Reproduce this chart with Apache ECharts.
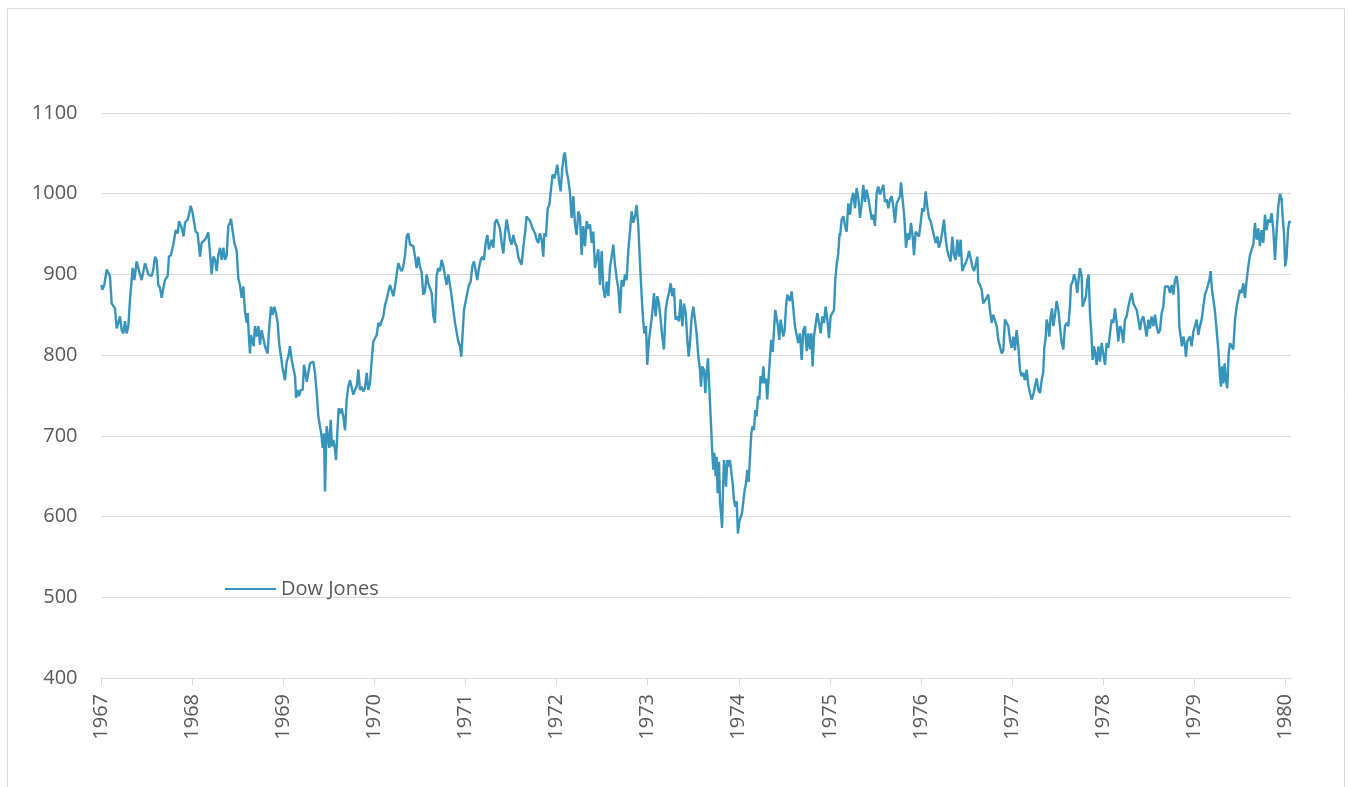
<!DOCTYPE html>
<html>
<head>
<meta charset="utf-8">
<title>Dow Jones 1967-1980</title>
<script src="https://cdn.jsdelivr.net/npm/echarts@6/dist/echarts.min.js"></script>
<style>
  html, body { margin: 0; padding: 0; background: #fff; }
  #chart { width: 1349px; height: 787px; }
</style>
</head>
<body>
<div id="chart"></div>
<script>
// values: [decimal year, index level]
var seriesName = 'Dow Jones';
var yearTicks = [1967, 1968, 1969, 1970, 1971, 1972, 1973, 1974, 1975, 1976, 1977, 1978, 1979, 1980];
var valueTicks = [400, 500, 600, 700, 800, 900, 1000, 1100];

var dowJones = [
  [1967.000,887],[1967.009,881],[1967.031,887],[1967.057,906],[1967.075,908],[1967.093,898],[1967.112,864],[1967.130,862],[1967.148,858],[1967.167,833],[1967.185,840],[1967.203,848],[1967.222,831],[1967.240,827],[1967.258,842],[1967.276,827],[1967.295,836],[1967.313,869],[1967.331,893],[1967.342,908],[1967.361,893],[1967.386,916],[1967.405,918],[1967.423,900],[1967.441,893],[1967.459,893],[1967.478,914],[1967.496,916],[1967.514,900],[1967.533,898],[1967.551,898],[1967.569,906],[1967.588,922],[1967.606,918],[1967.624,887],[1967.643,883],[1967.661,871],[1967.679,883],[1967.697,893],[1967.727,898],[1967.741,922],[1967.763,924],[1967.789,937],[1967.815,955],[1967.837,951],[1967.851,966],[1967.873,960],[1967.888,955],[1967.902,947],[1967.917,964],[1967.946,968],[1967.965,976],[1967.979,985],[1967.998,978],
  [1968.016,978],[1968.034,953],[1968.056,951],[1968.082,922],[1968.100,939],[1968.118,941],[1968.137,943],[1968.155,947],[1968.173,952],[1968.192,926],[1968.210,900],[1968.228,922],[1968.247,918],[1968.265,904],[1968.283,924],[1968.302,933],[1968.320,918],[1968.338,933],[1968.357,918],[1968.375,924],[1968.393,960],[1968.411,964],[1968.422,969],[1968.437,957],[1968.459,939],[1968.485,929],[1968.503,895],[1968.521,887],[1968.540,871],[1968.558,885],[1968.576,854],[1968.595,840],[1968.606,852],[1968.621,819],[1968.631,802],[1968.642,825],[1968.657,823],[1968.671,811],[1968.686,836],[1968.704,823],[1968.723,836],[1968.741,813],[1968.759,831],[1968.777,833],[1968.796,811],[1968.825,802],[1968.840,831],[1968.862,860],[1968.880,850],[1968.898,860],[1968.917,852],[1968.935,840],[1968.953,813],[1968.972,798],[1968.986,786],
  [1969.005,784],[1969.015,769],[1969.034,792],[1969.052,798],[1969.070,811],[1969.089,794],[1969.107,784],[1969.126,774],[1969.137,747],[1969.151,757],[1969.170,749],[1969.188,757],[1969.210,757],[1969.224,788],[1969.235,782],[1969.254,767],[1969.272,765],[1969.290,790],[1969.309,792],[1969.327,792],[1969.345,778],[1969.364,753],[1969.382,724],[1969.400,712],[1969.418,699],[1969.429,685],[1969.444,703],[1969.455,631],[1969.473,712],[1969.492,714],[1969.503,685],[1969.517,720],[1969.532,687],[1969.547,695],[1969.565,683],[1969.576,670],[1969.590,703],[1969.605,734],[1969.620,728],[1969.638,734],[1969.656,724],[1969.675,707],[1969.693,745],[1969.711,761],[1969.730,769],[1969.748,771],[1969.766,751],[1969.784,757],[1969.803,761],[1969.821,782],[1969.839,757],[1969.858,761],[1969.876,755],[1969.894,759],[1969.913,778],[1969.931,757],[1969.949,765],[1969.968,794],[1969.986,817],
  [1970.004,821],[1970.023,825],[1970.041,840],[1970.059,836],[1970.077,842],[1970.096,848],[1970.114,862],[1970.132,869],[1970.151,879],[1970.169,887],[1970.187,889],[1970.206,873],[1970.224,885],[1970.242,900],[1970.261,914],[1970.279,908],[1970.297,904],[1970.315,910],[1970.334,924],[1970.352,947],[1970.370,951],[1970.389,937],[1970.407,935],[1970.425,935],[1970.444,922],[1970.462,908],[1970.480,922],[1970.498,910],[1970.517,902],[1970.535,875],[1970.553,879],[1970.572,900],[1970.590,889],[1970.608,891],[1970.627,877],[1970.645,848],[1970.663,840],[1970.681,898],[1970.700,908],[1970.718,904],[1970.736,918],[1970.755,910],[1970.773,898],[1970.791,887],[1970.810,900],[1970.828,898],[1970.846,873],[1970.865,856],[1970.883,840],[1970.901,838],[1970.919,817],[1970.938,811],[1970.952,798],[1970.967,827],[1970.982,856],
  [1971.000,858],[1971.018,877],[1971.037,887],[1971.055,891],[1971.073,910],[1971.092,916],[1971.110,914],[1971.128,893],[1971.146,908],[1971.165,918],[1971.183,922],[1971.201,918],[1971.220,939],[1971.238,949],[1971.256,931],[1971.267,933],[1971.286,943],[1971.304,933],[1971.322,964],[1971.340,968],[1971.359,966],[1971.377,957],[1971.395,939],[1971.414,926],[1971.432,951],[1971.450,968],[1971.469,970],[1971.487,943],[1971.505,937],[1971.524,949],[1971.542,939],[1971.560,935],[1971.578,922],[1971.597,916],[1971.615,912],[1971.633,933],[1971.652,951],[1971.670,972],[1971.688,974],[1971.707,966],[1971.725,968],[1971.743,955],[1971.762,951],[1971.780,943],[1971.798,939],[1971.816,951],[1971.835,943],[1971.853,922],[1971.864,951],[1971.882,947],[1971.901,982],[1971.919,986],[1971.937,1005],[1971.956,1024],[1971.974,1019],[1971.989,1026],
  [1972.007,1036],[1972.025,1017],[1972.043,1003],[1972.062,1032],[1972.080,1048],[1972.091,1051],[1972.109,1028],[1972.128,1017],[1972.146,1001],[1972.164,970],[1972.183,997],[1972.201,962],[1972.219,949],[1972.238,978],[1972.256,972],[1972.274,924],[1972.292,960],[1972.311,935],[1972.329,966],[1972.347,957],[1972.366,962],[1972.384,939],[1972.402,953],[1972.421,908],[1972.439,920],[1972.457,931],[1972.475,887],[1972.494,929],[1972.512,883],[1972.530,871],[1972.549,891],[1972.567,873],[1972.585,908],[1972.604,910],[1972.622,937],[1972.640,912],[1972.659,895],[1972.677,883],[1972.695,852],[1972.713,893],[1972.732,885],[1972.750,900],[1972.768,893],[1972.787,931],[1972.805,953],[1972.823,978],[1972.842,964],[1972.860,972],[1972.878,986],[1972.897,960],[1972.908,931],[1972.926,889],[1972.944,852],[1972.962,827],[1972.981,836],[1972.995,788],
  [1973.014,819],[1973.032,819],[1973.050,852],[1973.069,877],[1973.087,848],[1973.105,873],[1973.123,864],[1973.142,844],[1973.160,823],[1973.178,807],[1973.197,856],[1973.215,869],[1973.233,877],[1973.252,889],[1973.270,873],[1973.288,883],[1973.306,844],[1973.325,848],[1973.343,842],[1973.361,869],[1973.380,836],[1973.398,864],[1973.417,852],[1973.435,819],[1973.450,798],[1973.464,815],[1973.482,846],[1973.501,860],[1973.519,844],[1973.537,827],[1973.556,798],[1973.574,782],[1973.585,761],[1973.600,786],[1973.618,782],[1973.633,753],[1973.647,778],[1973.662,796],[1973.676,761],[1973.691,724],[1973.706,687],[1973.720,658],[1973.731,679],[1973.746,650],[1973.757,674],[1973.768,629],[1973.783,668],[1973.794,617],[1973.805,604],[1973.816,586],[1973.827,633],[1973.838,670],[1973.849,658],[1973.860,637],[1973.874,670],[1973.889,662],[1973.903,670],[1973.918,672],[1973.933,641],[1973.947,621],[1973.962,612],[1973.977,619],[1973.991,579],
  [1974.006,594],[1974.021,592],[1974.035,604],[1974.050,604],[1974.065,633],[1974.079,641],[1974.094,658],[1974.108,643],[1974.123,645],[1974.138,703],[1974.152,712],[1974.167,707],[1974.182,732],[1974.196,724],[1974.211,749],[1974.226,745],[1974.240,774],[1974.255,765],[1974.270,786],[1974.284,765],[1974.299,771],[1974.313,745],[1974.328,745],[1974.343,798],[1974.357,819],[1974.372,804],[1974.387,831],[1974.401,856],[1974.416,858],[1974.431,836],[1974.445,819],[1974.460,844],[1974.475,846],[1974.489,823],[1974.504,831],[1974.519,860],[1974.533,875],[1974.548,877],[1974.562,867],[1974.581,879],[1974.599,858],[1974.617,836],[1974.636,825],[1974.654,815],[1974.672,827],[1974.691,794],[1974.709,831],[1974.727,836],[1974.746,805],[1974.764,827],[1974.782,807],[1974.797,827],[1974.811,786],[1974.826,823],[1974.844,838],[1974.863,852],[1974.881,840],[1974.899,827],[1974.918,848],[1974.936,840],[1974.954,860],[1974.973,844],[1974.991,821],
  [1975.009,848],[1975.027,852],[1975.046,856],[1975.060,893],[1975.075,912],[1975.093,926],[1975.108,951],[1975.112,947],[1975.130,968],[1975.149,972],[1975.167,960],[1975.185,953],[1975.203,988],[1975.222,974],[1975.240,993],[1975.258,1001],[1975.277,982],[1975.295,1007],[1975.313,995],[1975.332,970],[1975.350,988],[1975.368,1011],[1975.386,990],[1975.405,1005],[1975.423,995],[1975.441,982],[1975.460,968],[1975.478,974],[1975.496,960],[1975.515,1001],[1975.533,1009],[1975.551,999],[1975.570,1005],[1975.588,1011],[1975.606,990],[1975.624,993],[1975.643,982],[1975.661,993],[1975.679,997],[1975.698,984],[1975.716,964],[1975.734,988],[1975.753,986],[1975.771,997],[1975.782,1014],[1975.800,1013],[1975.818,972],[1975.837,933],[1975.855,951],[1975.873,943],[1975.892,964],[1975.910,947],[1975.925,924],[1975.943,953],[1975.961,955],[1975.980,947],[1975.998,964],
  [1976.016,982],[1976.035,978],[1976.053,1003],[1976.071,984],[1976.089,970],[1976.108,966],[1976.126,957],[1976.144,955],[1976.163,939],[1976.181,947],[1976.199,933],[1976.218,941],[1976.236,953],[1976.254,968],[1976.272,945],[1976.291,929],[1976.309,922],[1976.327,916],[1976.346,947],[1976.364,924],[1976.382,918],[1976.401,943],[1976.419,922],[1976.437,943],[1976.455,904],[1976.474,910],[1976.492,914],[1976.511,920],[1976.529,929],[1976.547,920],[1976.565,910],[1976.584,904],[1976.602,912],[1976.620,922],[1976.631,891],[1976.650,887],[1976.668,881],[1976.686,864],[1976.705,862],[1976.723,871],[1976.741,875],[1976.759,856],[1976.778,840],[1976.796,850],[1976.814,852],[1976.833,836],[1976.851,819],[1976.869,817],[1976.888,802],[1976.906,806],[1976.924,844],[1976.943,844],[1976.961,836],[1976.979,819],[1976.997,809],
  [1977.016,823],[1977.034,806],[1977.052,831],[1977.071,811],[1977.089,782],[1977.107,774],[1977.125,778],[1977.144,769],[1977.162,782],[1977.180,763],[1977.199,753],[1977.217,745],[1977.235,751],[1977.272,771],[1977.291,757],[1977.309,753],[1977.327,769],[1977.345,780],[1977.356,809],[1977.371,821],[1977.382,844],[1977.400,835],[1977.411,823],[1977.426,848],[1977.441,858],[1977.455,836],[1977.474,850],[1977.492,867],[1977.510,856],[1977.528,836],[1977.547,815],[1977.565,807],[1977.583,836],[1977.602,840],[1977.620,836],[1977.638,860],[1977.649,887],[1977.668,891],[1977.682,900],[1977.701,893],[1977.719,877],[1977.734,895],[1977.748,908],[1977.766,898],[1977.777,860],[1977.796,862],[1977.814,873],[1977.829,893],[1977.843,900],[1977.858,852],[1977.873,827],[1977.887,794],[1977.902,811],[1977.917,802],[1977.931,788],[1977.950,811],[1977.968,792],[1977.986,815],
  [1978.004,802],[1978.023,788],[1978.041,815],[1978.059,809],[1978.078,827],[1978.096,844],[1978.114,840],[1978.133,858],[1978.151,840],[1978.169,817],[1978.187,836],[1978.206,831],[1978.224,815],[1978.242,844],[1978.261,848],[1978.279,860],[1978.297,869],[1978.316,877],[1978.334,864],[1978.352,860],[1978.371,856],[1978.389,844],[1978.407,831],[1978.425,844],[1978.444,848],[1978.462,836],[1978.480,823],[1978.499,844],[1978.517,833],[1978.535,848],[1978.554,836],[1978.572,850],[1978.590,836],[1978.608,827],[1978.627,831],[1978.645,852],[1978.663,860],[1978.682,885],[1978.700,887],[1978.718,885],[1978.737,877],[1978.755,887],[1978.773,875],[1978.792,893],[1978.810,898],[1978.828,881],[1978.839,836],[1978.854,823],[1978.868,811],[1978.883,823],[1978.901,813],[1978.912,798],[1978.927,817],[1978.942,815],[1978.956,823],[1978.975,811],[1978.993,829],
  [1979.011,836],[1979.030,844],[1979.048,825],[1979.066,836],[1979.084,844],[1979.103,860],[1979.121,875],[1979.139,881],[1979.158,879],[1979.169,893],[1979.183,904],[1979.198,881],[1979.213,869],[1979.231,854],[1979.249,831],[1979.267,807],[1979.286,774],[1979.297,761],[1979.308,786],[1979.322,765],[1979.337,790],[1979.351,769],[1979.366,759],[1979.381,802],[1979.396,815],[1979.414,817],[1979.432,807],[1979.451,844],[1979.469,860],[1979.487,858],[1979.505,881],[1979.524,877],[1979.542,889],[1979.560,871],[1979.579,893],[1979.597,910],[1979.615,924],[1979.634,931],[1979.652,937],[1979.670,964],[1979.688,943],[1979.707,957],[1979.725,935],[1979.743,955],[1979.762,939],[1979.780,974],[1979.798,955],[1979.817,968],[1979.835,964],[1979.853,976],[1979.872,955],[1979.890,918],[1979.908,953],[1979.926,984],[1979.945,1000],[1979.963,993],[1979.974,972],[1979.989,951],
  [1980.003,910],[1980.018,922],[1980.033,955],[1980.047,966],[1980.062,964]
];

var textColor = '#595959';
var gridColor = '#d9d9d9';
var lineColor = '#3794ba';
var fontName = 'Open Sans';

var chart = echarts.init(document.getElementById('chart'));

var option = {
    animation: false,
    backgroundColor: '#ffffff',
    textStyle: { fontFamily: fontName },
    graphic: [{
        type: 'rect',
        silent: true,
        shape: { x: 7.5, y: 8.5, width: 1337, height: 800 },
        style: { fill: 'none', stroke: gridColor, lineWidth: 1 }
    }],
    grid: {
        left: 101.5,
        right: 58,
        top: 113,
        bottom: 109,
        containLabel: false
    },
    legend: {
        left: 225,
        top: 579,
        padding: 0,
        icon: 'rect',
        itemWidth: 51,
        itemHeight: 2,
        textStyle: { color: textColor, fontSize: 20, fontFamily: fontName },
        data: [seriesName]
    },
    xAxis: {
        type: 'value',
        min: yearTicks[0],
        max: 1980.066,
        interval: 1,
        axisLine: { show: true, lineStyle: { color: gridColor, width: 1 } },
        axisTick: {
            show: true,
            length: 7,
            customValues: yearTicks,
            lineStyle: { color: gridColor }
        },
        axisLabel: {
            rotate: 90,
            margin: 16,
            color: textColor,
            fontSize: 20,
            fontFamily: fontName,
            customValues: yearTicks,
            formatter: function (v) { return String(Math.round(v)); }
        },
        splitLine: { show: false }
    },
    yAxis: {
        type: 'value',
        min: valueTicks[0],
        max: valueTicks[valueTicks.length - 1],
        interval: 100,
        axisLine: { show: false },
        axisTick: { show: false },
        axisLabel: {
            margin: 24,
            color: textColor,
            fontSize: 20,
            fontFamily: fontName,
            formatter: function (v) { return String(v); }
        },
        splitLine: { show: true, lineStyle: { color: gridColor, width: 1 } }
    },
    series: [{
        name: seriesName,
        type: 'line',
        data: dowJones,
        symbol: 'none',
        showSymbol: false,
        smooth: false,
        color: lineColor,
        lineStyle: { color: lineColor, width: 2.4 }
    }]
};

chart.setOption(option);
</script>
</body>
</html>
